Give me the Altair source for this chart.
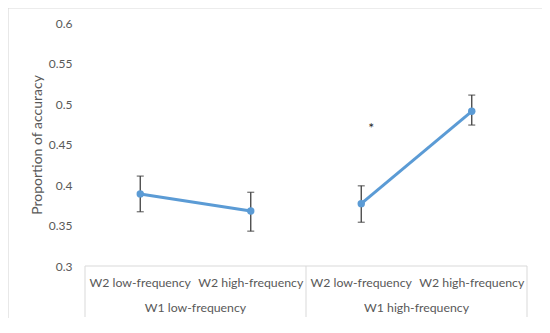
import altair as alt
import pandas as pd

# Data
w2_labels = ["W2 low-frequency", "W2 high-frequency", "W2 low-frequency", "W2 high-frequency"]
w1_groups = ["W1 low-frequency", "W1 low-frequency", "W1 high-frequency", "W1 high-frequency"]
accuracy = [0.389, 0.368, 0.377, 0.491]
err_low = [0.367, 0.343, 0.354, 0.474]
err_high = [0.411, 0.391, 0.399, 0.511]
group_labels = ["W1 low-frequency", "W1 high-frequency"]
y_ticks = [0.3, 0.35, 0.4, 0.45, 0.5, 0.55, 0.6]
star_text = ["*"]
star_pos = [2.59]
star_val = [0.469]

W, H = 442, 243
FONT = "Lato"
TXT = "#595959"

df = pd.DataFrame({
    "pos": [i + 0.5 for i in range(len(accuracy))],
    "w2": w2_labels,
    "w1": w1_groups,
    "acc": accuracy,
    "lo": err_low,
    "hi": err_high,
})
groups_df = pd.DataFrame({"gpos": [1.0, 3.0], "label": group_labels})
div_df = pd.DataFrame({"dpos": [0.0, 2.0, 4.0]})
base_df = pd.DataFrame({"a": [0.0], "b": [4.0], "y": [0.3]})
star_df = pd.DataFrame({"pos": star_pos, "acc": star_val, "t": star_text})

xs = alt.Scale(domain=[0, 4], nice=False, zero=False)
ys = alt.Scale(domain=[0.3, 0.6], nice=False, zero=False)

y_axis = alt.Axis(
    values=y_ticks, format=".2~f", title="Proportion of accuracy",
    domain=False, ticks=False, grid=False, labelPadding=13,
    labelFont=FONT, labelFontSize=12, labelColor=TXT,
    titleFont=FONT, titleFontSize=14, titleColor=TXT, titleFontWeight="normal",
    titleX=-48, titleY=H / 2, titleAlign="center", titleBaseline="middle", titleAngle=-90,
)

border = alt.Chart(pd.DataFrame({"k": [0]})).mark_rect(
    fill="transparent", stroke="#D9D9D9", strokeWidth=1.2
).encode(x=alt.value(-77), x2=alt.value(458), y=alt.value(-15), y2=alt.value(301))

baseline = alt.Chart(base_df).mark_rule(color="#D9D9D9", strokeWidth=1).encode(
    x=alt.X("a:Q", scale=xs, axis=None), x2="b:Q",
    y=alt.Y("y:Q", scale=ys, axis=y_axis),
)

dividers = alt.Chart(div_df).mark_rule(color="#D9D9D9", strokeWidth=1).encode(
    x=alt.X("dpos:Q", scale=xs, axis=None), y=alt.value(H), y2=alt.value(H + 51)
)

cat_text = alt.Chart(df).mark_text(
    font=FONT, fontSize=12.3, color=TXT, baseline="middle"
).encode(x=alt.X("pos:Q", scale=xs, axis=None), y=alt.value(H + 17), text="w2:N")

grp_text = alt.Chart(groups_df).mark_text(
    font=FONT, fontSize=12.3, color=TXT, baseline="middle"
).encode(x=alt.X("gpos:Q", scale=xs, axis=None), y=alt.value(H + 42), text="label:N")

err_rule = alt.Chart(df).mark_rule(color="#404040", strokeWidth=1.3).encode(
    x=alt.X("pos:Q", scale=xs, axis=None),
    y=alt.Y("lo:Q", scale=ys, axis=y_axis), y2="hi:Q",
)
cap_lo = alt.Chart(df).mark_tick(orient="horizontal", size=7, thickness=1.3, color="#404040").encode(
    x=alt.X("pos:Q", scale=xs, axis=None), y=alt.Y("lo:Q", scale=ys, axis=y_axis)
)
cap_hi = alt.Chart(df).mark_tick(orient="horizontal", size=7, thickness=1.3, color="#404040").encode(
    x=alt.X("pos:Q", scale=xs, axis=None), y=alt.Y("hi:Q", scale=ys, axis=y_axis)
)

line = alt.Chart(df).mark_line(color="#5B9BD5", strokeWidth=3).encode(
    x=alt.X("pos:Q", scale=xs, axis=None),
    y=alt.Y("acc:Q", scale=ys, axis=y_axis),
    detail="w1:N",
)
pts = alt.Chart(df).mark_circle(color="#5B9BD5", opacity=1, size=55).encode(
    x=alt.X("pos:Q", scale=xs, axis=None),
    y=alt.Y("acc:Q", scale=ys, axis=y_axis),
)

star = alt.Chart(star_df).mark_text(font=FONT, fontSize=14, color="#262626", baseline="middle").encode(
    x=alt.X("pos:Q", scale=xs, axis=None),
    y=alt.Y("acc:Q", scale=ys, axis=y_axis),
    text="t:N",
)

chart = alt.layer(
    border, baseline, dividers, cat_text, grp_text, err_rule, cap_lo, cap_hi, line, pts, star
).properties(
    width=W, height=H,
    background="white",
    autosize=alt.AutoSizeParams(type="none"),
    padding={"left": 77, "top": 15, "right": 15, "bottom": 52},
).configure_view(stroke=None)

chart.save("out.html", embed_options={"renderer": "svg", "actions": False})
